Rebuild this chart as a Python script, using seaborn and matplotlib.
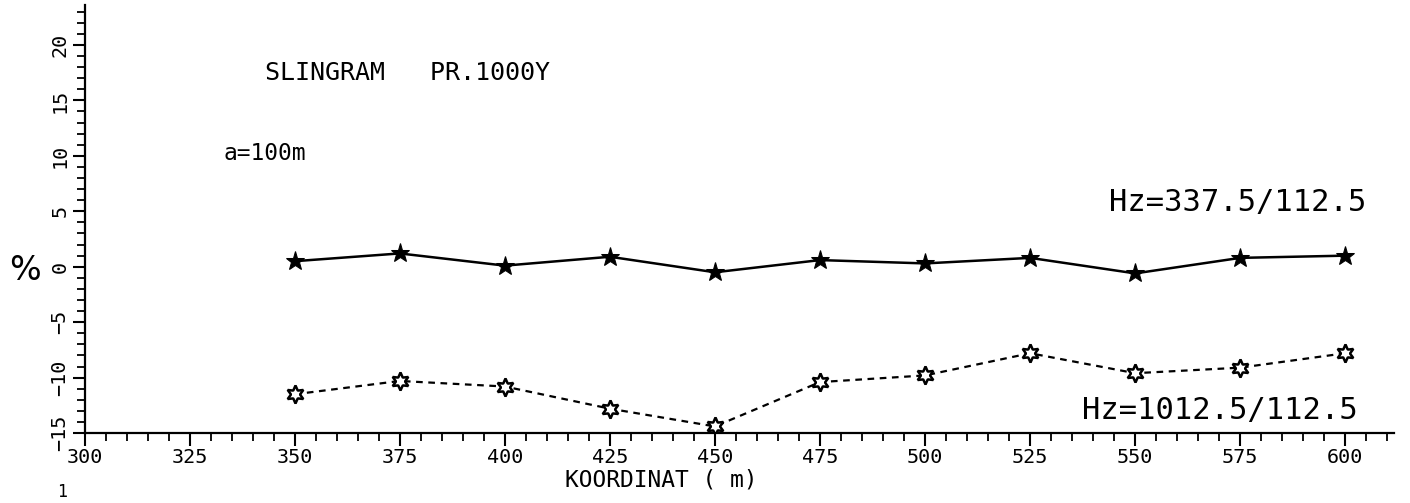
import pandas as pd
import numpy as np
import matplotlib
matplotlib.use("Agg")
import matplotlib.pyplot as plt
import seaborn as sns
from matplotlib.ticker import MultipleLocator

# data
koordinat = [350, 375, 400, 425, 450, 475, 500, 525, 550, 575, 600]
hz_337 = [0.5, 1.2, 0.1, 0.9, -0.5, 0.6, 0.3, 0.8, -0.6, 0.8, 1.0]
hz_1012 = [-11.5, -10.3, -10.8, -12.8, -14.4, -10.4, -9.8, -7.8, -9.6, -9.1, -7.8]

df = pd.DataFrame({"KOORDINAT": koordinat, "hz337": hz_337, "hz1012": hz_1012})

sns.set_style("ticks")
plt.rcParams["font.family"] = ["DejaVu Sans Mono", "DejaVu Sans"]
plt.rcParams["text.color"] = "black"
plt.rcParams["xtick.color"] = "black"
plt.rcParams["ytick.color"] = "black"
plt.rcParams["axes.labelcolor"] = "black"

fig = plt.figure(figsize=(14.1, 5.03), dpi=100)
ax = fig.add_axes([0.060, 0.139, 0.929, 0.851])

sns.lineplot(data=df, x="KOORDINAT", y="hz337", ax=ax, color="black",
             linewidth=1.8, marker="*", markersize=14,
             markerfacecolor="black", markeredgecolor="black")
sns.lineplot(data=df, x="KOORDINAT", y="hz1012", ax=ax, color="black",
             linewidth=1.6, linestyle=(0, (3, 2.5)), marker=(6, 1, 0),
             markersize=13, markerfacecolor="white",
             markeredgecolor="black", markeredgewidth=1.8)

ax.set_xlim(300, 611.7)
ax.set_ylim(-15, 23.6)

ax.xaxis.set_minor_locator(MultipleLocator(5))
ax.yaxis.set_minor_locator(MultipleLocator(1))
ax.set_xticks(np.arange(300, 601, 25))
ax.set_yticks(np.arange(-15, 21, 5))

ax.tick_params(axis="both", which="major", direction="out", length=9,
               width=1.5, labelsize=14.5, color="black", labelcolor="black",
               pad=2)
ax.tick_params(axis="both", which="minor", direction="out", length=6,
               width=1.3, color="black")
for lab in ax.get_yticklabels():
    lab.set_rotation(90)
    lab.set_va("center")

sns.despine(ax=ax)
ax.spines["left"].set_linewidth(1.6)
ax.spines["bottom"].set_linewidth(1.6)
ax.spines["left"].set_color("black")
ax.spines["bottom"].set_color("black")

ax.set_xlabel("KOORDINAT ( m)", fontsize=16.5)
ax.xaxis.set_label_coords(0.44, -0.082)
ax.set_ylabel("")
fig.text(0.018, 0.463, "%", fontsize=24, ha="center", va="center",
         rotation=0, family="DejaVu Sans")

ax.text(343, 17.5, "SLINGRAM   PR.1000Y", fontsize=18, va="center")
ax.text(333, 10.2, "a=100m", fontsize=16.5, va="center")
ax.text(605, 5.8, "Hz=337.5/112.5", fontsize=22, va="center", ha="right")
ax.text(603, -13.0, "Hz=1012.5/112.5", fontsize=22, va="center", ha="right")
fig.text(0.044, 0.022, "1", fontsize=12, ha="center", va="center")

fig.savefig("out.png", dpi=100)
